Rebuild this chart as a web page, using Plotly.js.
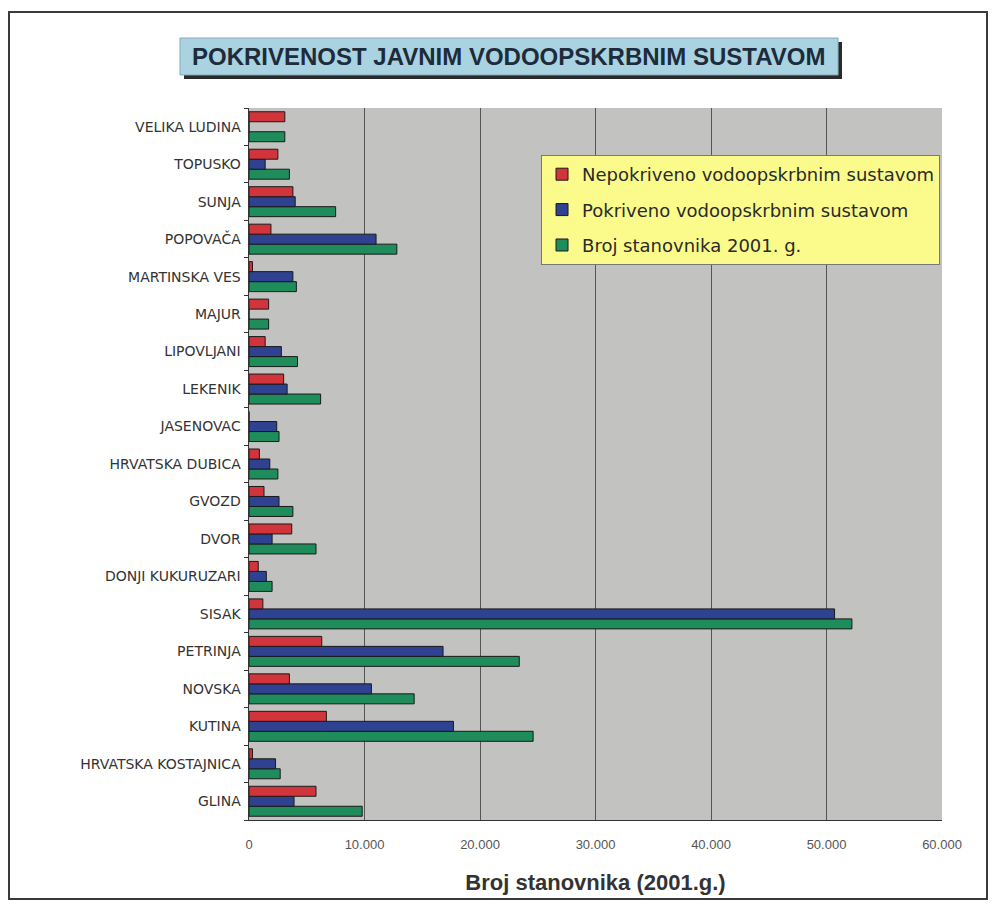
<!DOCTYPE html>
<html><head><meta charset="utf-8">
<script src="https://cdn.plot.ly/plotly-3.0.1.min.js"></script>
<style>
html,body{margin:0;padding:0;background:#fff;}
#wrap{position:relative;width:995px;height:907px;}
#chart{width:995px;height:907px;}
#frame{position:absolute;left:8px;top:11px;width:980px;height:889px;border:2px solid #3a3a3a;pointer-events:none;box-sizing:border-box;}
</style>
</head><body>
<div id="wrap"><div id="chart"></div><div id="frame"></div></div>
<script>
const categories = ["GLINA","HRVATSKA KOSTAJNICA","KUTINA","NOVSKA","PETRINJA","SISAK","DONJI KUKURUZARI","DVOR","GVOZD","HRVATSKA DUBICA","JASENOVAC","LEKENIK","LIPOVLJANI","MAJUR","MARTINSKA VES","POPOVAČA","SUNJA","TOPUSKO","VELIKA LUDINA"];
const nepokriveno = [5800, 300, 6700, 3500, 6300, 1200, 800, 3700, 1300, 900, 0, 3000, 1400, 1700, 300, 1900, 3800, 2500, 3100];
const pokriveno   = [3900, 2300, 17700, 10600, 16800, 50700, 1500, 2000, 2600, 1800, 2400, 3300, 2800, 0, 3800, 11000, 4000, 1400, 0];
const stanovnika  = [9800, 2700, 24600, 14300, 23400, 52200, 2000, 5800, 3800, 2500, 2600, 6200, 4200, 1700, 4100, 12800, 7500, 3500, 3100];
const xTicks = [0, 10000, 20000, 30000, 40000, 50000, 60000];
const xTickText = ["0", "10.000", "20.000", "30.000", "40.000", "50.000", "60.000"];

const font = "Liberation Sans, Arial, sans-serif";
function tr(name, vals, color, grp, rank){
  return {type:'bar', orientation:'h', name:name, y:categories, x:vals, legendgroup:grp, legendrank:rank,
    marker:{color:color, line:{color:'#1a1a1a', width:1}}, hoverinfo:'x+y'};
}
const data = [
  tr("Broj stanovnika 2001. g.", stanovnika, "#1f8c5c", "g3", 3),
  tr("Pokriveno vodoopskrbnim sustavom", pokriveno, "#2f4291", "g2", 2),
  tr("Nepokriveno vodoopskrbnim sustavom", nepokriveno, "#d2343c", "g1", 1)
];
const layout = {
  width:995, height:907,
  margin:{l:249, r:53, t:108, b:87},
  paper_bgcolor:'#ffffff', plot_bgcolor:'#c2c2c0',
  font:{family:font, color:'#222'},
  barmode:'group', bargap:0.2, bargroupgap:0,
  showlegend:true,
  legend:{x:0.4214, y:0.934, xanchor:'left', yanchor:'top', traceorder:'grouped',
    tracegroupgap:9, itemwidth:30,
    bgcolor:'#fbfb8c', bordercolor:'#777', borderwidth:1,
    font:{family:"DejaVu Sans, sans-serif", size:18, color:'#2a2a2a'}},
  xaxis:{range:[0,60000], tickvals:xTicks, ticktext:xTickText,
    showgrid:true, gridcolor:'#555', gridwidth:1, zeroline:false,
    showline:true, linecolor:'#333', linewidth:1, ticks:'', ticklabelstandoff:12,
    tickfont:{family:font, size:13, color:'#555'},
    title:{text:'<b>Broj stanovnika (2001.g.)</b>', font:{family:font, size:22, color:'#333'}, standoff:24}},
  yaxis:{type:'category', categoryorder:'array', categoryarray:categories,
    showline:true, linecolor:'#333', linewidth:1, ticks:'outside', ticklen:4, tickcolor:'#333',
    tickson:'boundaries', showgrid:false,
    tickfont:{family:"DejaVu Sans, sans-serif", size:14, color:'#333'}, ticksuffix:' '},
  shapes:[
    {type:'rect', xref:'paper', yref:'paper', x0:-0.0938, x1:0.8557, y0:1.0407, y1:1.0927,
      fillcolor:'#2a2a2a', line:{width:0}, layer:'above'},
    {type:'rect', xref:'paper', yref:'paper', x0:-0.0996, x1:0.850, y0:1.0464, y1:1.0983,
      fillcolor:'#a9d3e1', line:{color:'#8ab', width:1}, layer:'above'}
  ],
  annotations:[
    {xref:'paper', yref:'paper', x:0.375, y:1.0724, xanchor:'center', yanchor:'middle',
      text:'<b>POKRIVENOST JAVNIM VODOOPSKRBNIM SUSTAVOM</b>', showarrow:false,
      font:{family:font, size:24, color:'#1d2b3a'}}
  ]
};
Plotly.newPlot('chart', data, layout, {displayModeBar:false});
</script>
</body></html>
